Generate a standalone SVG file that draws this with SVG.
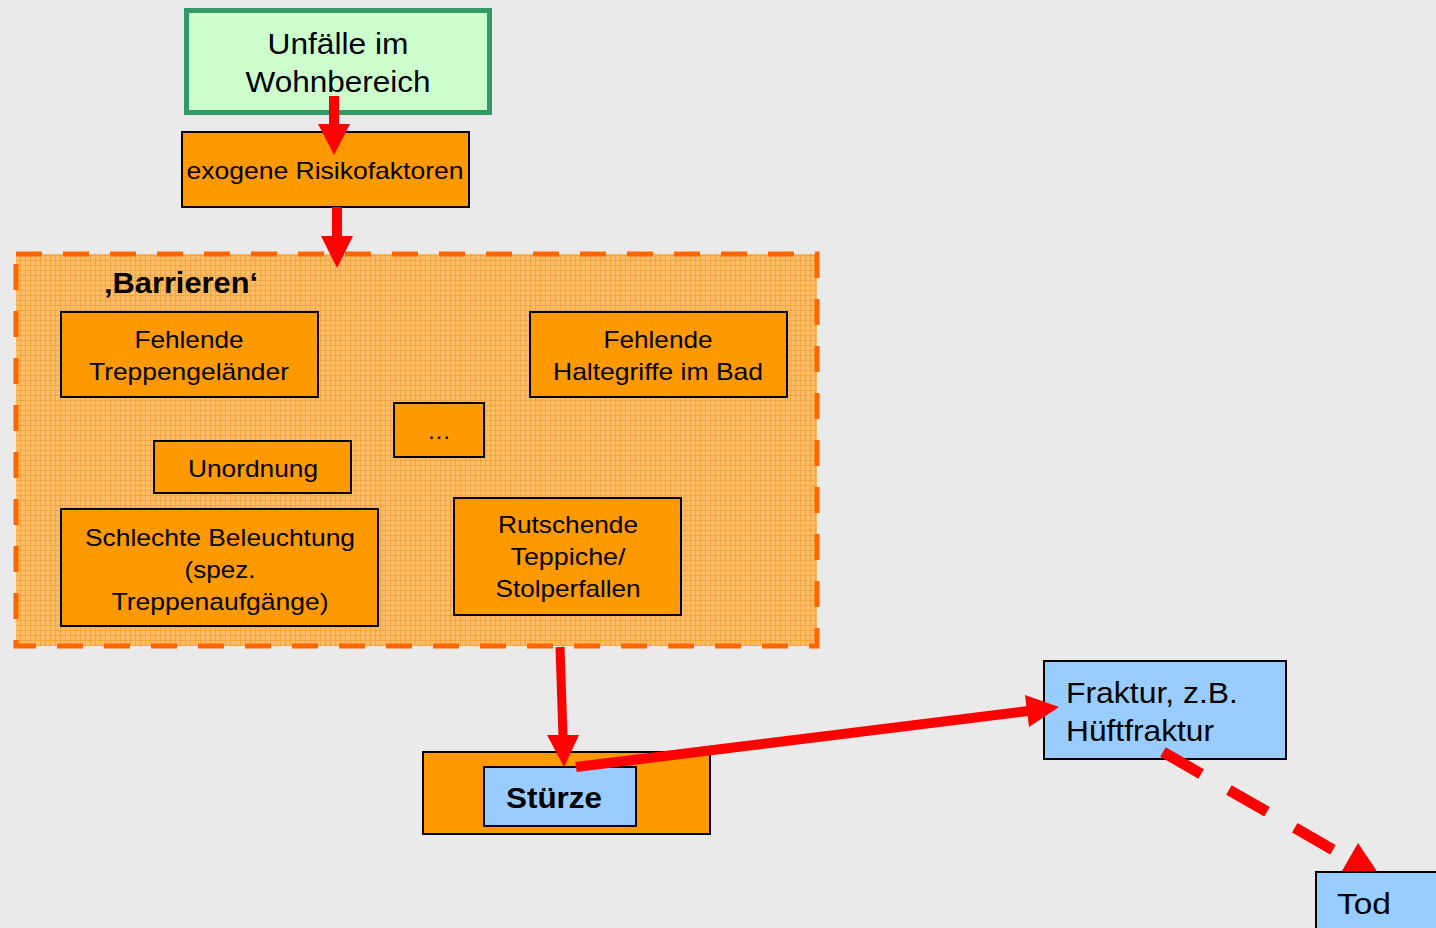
<svg xmlns="http://www.w3.org/2000/svg" width="1436" height="928" viewBox="0 0 1436 928">
<defs>
<pattern id="grid" width="5" height="5" patternUnits="userSpaceOnUse">
<rect width="5" height="5" fill="#FABD6A"/>
<rect width="5" height="1" fill="#F6A43C"/>
<rect width="1" height="5" fill="#F6A43C"/>
</pattern>
<style>
text{font-family:"Liberation Sans",Arial,sans-serif;fill:#000}
.t24{font-size:24px;text-anchor:middle}
.t29{font-size:29px}
.c{text-anchor:middle}
.b{font-weight:bold}
.box{fill:#FF9900;stroke:#000;stroke-width:2}
.blue{fill:#99CCFF;stroke:#000;stroke-width:2}
.shaft{stroke:#FF0000;fill:none}
.head{fill:#FF0000}
</style>
</defs>
<rect width="1436" height="928" fill="#EAEAEA"/>

<g id="barrieren">
<rect x="16" y="254" width="801" height="392" fill="url(#grid)" stroke="#FF6600" stroke-width="5" stroke-dasharray="26 21"/>
<text class="b" x="104" y="293" font-size="29" textLength="154" lengthAdjust="spacingAndGlyphs">‚Barrieren‘</text>
</g>

<g id="unfaelle">
<rect x="186.5" y="10.5" width="303" height="102" fill="#CCFFCC" stroke="#339966" stroke-width="5"/>
<text class="t29 c" x="338" y="54" textLength="141" lengthAdjust="spacingAndGlyphs">Unfälle im</text>
<text class="t29 c" x="338" y="92" textLength="185" lengthAdjust="spacingAndGlyphs">Wohnbereich</text>
</g>

<g id="exogen">
<rect class="box" x="182" y="132" width="287" height="75"/>
<text class="t24" x="325" y="179" textLength="277" lengthAdjust="spacingAndGlyphs">exogene Risikofaktoren</text>
</g>

<g id="treppengelaender">
<rect class="box" x="61" y="312" width="257" height="85"/>
<text class="t24" x="189" y="348" textLength="109" lengthAdjust="spacingAndGlyphs">Fehlende</text>
<text class="t24" x="189" y="380" textLength="200" lengthAdjust="spacingAndGlyphs">Treppengeländer</text>
</g>

<g id="haltegriffe">
<rect class="box" x="530" y="312" width="257" height="85"/>
<text class="t24" x="658" y="348" textLength="109" lengthAdjust="spacingAndGlyphs">Fehlende</text>
<text class="t24" x="658" y="380" textLength="210" lengthAdjust="spacingAndGlyphs">Haltegriffe im Bad</text>
</g>

<g id="weitere">
<rect class="box" x="394" y="403" width="90" height="54"/>
<text class="t24" x="439" y="439">…</text>
</g>

<g id="unordnung">
<rect class="box" x="154" y="441" width="197" height="52"/>
<text class="t24" x="253" y="477" textLength="130" lengthAdjust="spacingAndGlyphs">Unordnung</text>
</g>

<g id="beleuchtung">
<rect class="box" x="61" y="509" width="317" height="117"/>
<text class="t24" x="220" y="546" textLength="270" lengthAdjust="spacingAndGlyphs">Schlechte Beleuchtung</text>
<text class="t24" x="220" y="578" textLength="71" lengthAdjust="spacingAndGlyphs">(spez.</text>
<text class="t24" x="220" y="610" textLength="217" lengthAdjust="spacingAndGlyphs">Treppenaufgänge)</text>
</g>

<g id="teppiche">
<rect class="box" x="454" y="498" width="227" height="117"/>
<text class="t24" x="568" y="533" textLength="140" lengthAdjust="spacingAndGlyphs">Rutschende</text>
<text class="t24" x="568" y="565" textLength="115" lengthAdjust="spacingAndGlyphs">Teppiche/</text>
<text class="t24" x="568" y="597" textLength="145" lengthAdjust="spacingAndGlyphs">Stolperfallen</text>
</g>

<g id="stuerze">
<rect class="box" x="423" y="752" width="287" height="82"/>
<rect class="blue" x="484" y="767" width="152" height="59"/>
<text class="b c" x="554" y="808" font-size="30" textLength="96" lengthAdjust="spacingAndGlyphs">Stürze</text>
</g>

<g id="fraktur">
<rect class="blue" x="1044" y="661" width="242" height="98"/>
<text class="t29" x="1066" y="703" textLength="172" lengthAdjust="spacingAndGlyphs">Fraktur, z.B.</text>
<text class="t29" x="1066" y="741" textLength="148" lengthAdjust="spacingAndGlyphs">Hüftfraktur</text>
</g>

<g id="connectors">
<line class="shaft" x1="334" y1="96" x2="334" y2="127" stroke-width="10"/>
<polygon class="head" points="318,124 350,124 334,155"/>
<line class="shaft" x1="337" y1="207" x2="337" y2="238" stroke-width="10"/>
<polygon class="head" points="321,236 353,236 337,268"/>
<line class="shaft" x1="560" y1="647" x2="563" y2="737" stroke-width="9"/>
<polygon class="head" points="547,735 579,735 564,767"/>
<line class="shaft" x1="576" y1="767" x2="1028" y2="711" stroke-width="10"/>
<polygon class="head" points="1025,695 1029,727 1059,707"/>
<line class="shaft" x1="1163" y1="752" x2="1349" y2="859" stroke-width="11" stroke-dasharray="44 32"/>
<polygon class="head" points="1358,843 1339.3,875.4 1381.6,878.2"/>
</g>

<g id="tod">
<rect class="blue" x="1316" y="872" width="140" height="80"/>
<text class="t29" x="1337" y="914" textLength="54" lengthAdjust="spacingAndGlyphs">Tod</text>
</g>
</svg>
